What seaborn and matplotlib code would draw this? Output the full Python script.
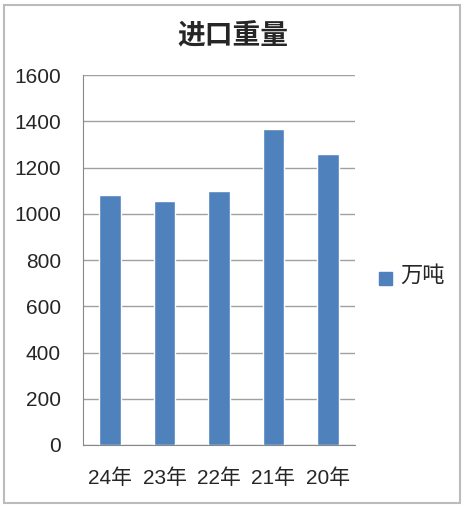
import pandas as pd
import matplotlib
matplotlib.use('Agg')
import matplotlib.pyplot as plt
import seaborn as sns
from matplotlib.patches import Rectangle

# 資料
years = ['24年', '23年', '22年', '21年', '20年']
weights = [1081, 1055, 1098, 1365, 1258]
series_name = '万吨'
y_ticks = [0, 200, 400, 600, 800, 1000, 1200, 1400, 1600]

df = pd.DataFrame({'年份': years, '重量': weights, '系列': series_name})

sns.set_style('white')
plt.rcParams['font.family'] = ['Liberation Sans', 'Noto Sans CJK SC', 'DejaVu Sans']

fig = plt.figure(figsize=(4.66, 5.07), dpi=100)
ax = fig.add_axes([83 / 466, 1 - 445 / 507, (355 - 83) / 466, (445 - 75) / 507])

bar_color = '#4F81BD'
sns.barplot(data=df, x='年份', y='重量', hue='系列', palette=[bar_color],
            width=0.4, ax=ax, legend=False, saturation=1)

ax.set_ylim(0, 1600)
ax.set_yticks(y_ticks)
ax.set_yticklabels([str(v) for v in y_ticks], fontsize=15)
ax.set_xlim(-0.5, len(years) - 0.5)
ax.set_xlabel('')
ax.set_ylabel('')

# 格線
ax.grid(axis='y', color='#A0A0A0', linewidth=1)
ax.set_axisbelow(True)
for s in ['top', 'right']:
    ax.spines[s].set_visible(False)
ax.spines['left'].set_color('#888888')
ax.spines['bottom'].set_color('#888888')

# x 軸刻度放在類別之間
ax.set_xticks(range(len(years)))
ax.set_xticklabels(years, fontsize=15)
ax.tick_params(axis='x', length=0, pad=17)
ax.set_xticks([i - 0.5 for i in range(len(years) + 1)], minor=True)
ax.tick_params(axis='x', which='minor', length=6, color='#888888', direction='out')
ax.tick_params(axis='y', length=7, color='#A0A0A0', direction='out', pad=9)

# 標題
fig.text(0.5, 1 - 36 / 507, '进口重量', ha='center', va='center', fontsize=20,
         fontweight='bold', family=['Noto Sans CJK SC'])

# 圖例
fig.patches.append(Rectangle((379 / 466, 1 - 285 / 507), 13 / 466, 13 / 507,
                             transform=fig.transFigure, color=bar_color))
fig.text(400 / 466, 1 - 275 / 507, series_name, ha='left', va='center', fontsize=16,
         family=['Noto Sans CJK SC'])

# 外框
fig.patches.append(Rectangle((4 / 466, 4 / 507), 456 / 466, 498 / 507,
                             transform=fig.transFigure, fill=False,
                             edgecolor='#BBBBBB', linewidth=1.5))

fig.savefig('out.png', dpi=100)
